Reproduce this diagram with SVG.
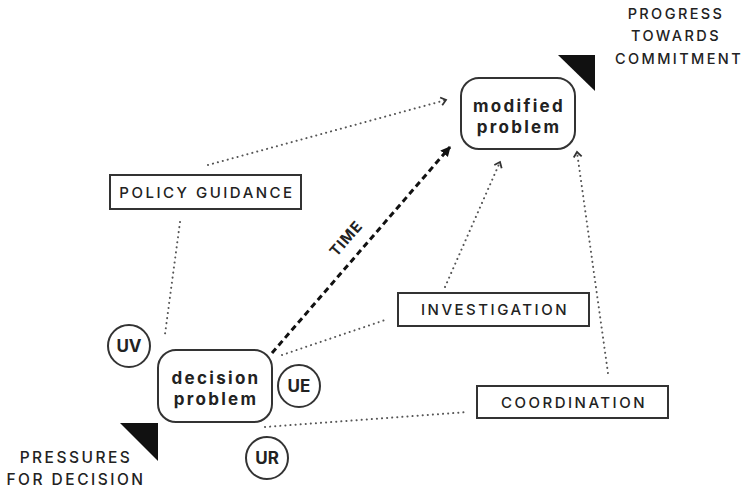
<svg xmlns="http://www.w3.org/2000/svg" width="747" height="492" viewBox="0 0 747 492">
<style>
text{font-family:Inter,"Liberation Sans",sans-serif;fill:#222}
.lbl{font-size:15px;font-weight:500;letter-spacing:2.5px;text-anchor:middle}
.cap{font-size:14.5px;font-weight:500;letter-spacing:2.4px;text-anchor:middle}
.capb{font-size:15.5px;font-weight:500;letter-spacing:2.5px;text-anchor:middle}
.big{font-size:17px;font-weight:700;letter-spacing:2.3px;text-anchor:middle}
.circ{font-size:17px;font-weight:700;text-anchor:middle}
.box{fill:#fff;stroke:#333;stroke-width:2}
.dot{fill:none;stroke:#555;stroke-width:2;stroke-linecap:round;stroke-dasharray:0.1 5}
.time{fill:none;stroke:#111;stroke-width:3;stroke-dasharray:6 4}
.tri{fill:#111}
</style>
<defs>
<marker id="open" markerWidth="10" markerHeight="10" refX="7" refY="5" orient="auto" markerUnits="userSpaceOnUse">
<path d="M2,1 L7,5 L2,9" fill="none" stroke="#333" stroke-width="1.8"/>
</marker>
<marker id="solid" markerWidth="12" markerHeight="12" refX="9" refY="6" orient="auto" markerUnits="userSpaceOnUse">
<path d="M0,1 L10,6 L0,11 Z" fill="#111"/>
</marker>
</defs>
<g id="connectors">
<path class="dot" d="M208,165 L446,100" marker-end="url(#open)"/>
<path class="dot" d="M180,222 L165,334"/>
<path class="dot" d="M282,355 L388,319"/>
<path class="dot" d="M445,287 L500,162" marker-end="url(#open)"/>
<path class="dot" d="M608,373 L577,152" marker-end="url(#open)"/>
<path class="dot" d="M265,427 L468,412"/>
<path class="time" d="M272,353 L450,147" marker-end="url(#solid)"/>
<text class="circ" transform="translate(350,242) rotate(-49)" style="font-size:15px;letter-spacing:1px">TIME</text>
</g>
<g id="modified-problem">
<rect class="box" x="461" y="78" width="114" height="71" rx="18"/>
<text class="big" x="519" y="112">modified</text>
<text class="big" x="519" y="133">problem</text>
</g>
<g id="decision-problem">
<rect class="box" x="158" y="350" width="114" height="72" rx="18"/>
<text class="big" x="216" y="384">decision</text>
<text class="big" x="216" y="405">problem</text>
</g>
<g id="policy-guidance">
<rect class="box" x="110" y="175" width="191" height="34"/>
<text class="lbl" x="207" y="198">POLICY GUIDANCE</text>
</g>
<g id="investigation">
<rect class="box" x="398" y="293" width="191" height="33"/>
<text class="lbl" x="495" y="315">INVESTIGATION</text>
</g>
<g id="coordination">
<rect class="box" x="477" y="386" width="191" height="32"/>
<text class="lbl" x="574" y="408">COORDINATION</text>
</g>
<g id="uv">
<circle class="box" cx="129" cy="346" r="21"/>
<text class="circ" x="129" y="352">UV</text>
</g>
<g id="ue">
<circle class="box" cx="299" cy="386" r="21"/>
<text class="circ" x="299" y="392">UE</text>
</g>
<g id="ur">
<circle class="box" cx="267" cy="458" r="21"/>
<text class="circ" x="267" y="464">UR</text>
</g>
<g id="progress">
<polygon class="tri" points="558,55 595,55 595,91"/>
<text class="cap" x="676" y="19">PROGRESS</text>
<text class="cap" x="676" y="41">TOWARDS</text>
<text class="cap" x="679" y="64">COMMITMENT</text>
</g>
<g id="pressures">
<polygon class="tri" points="120,423 158,423 158,461"/>
<text class="capb" x="76" y="463">PRESSURES</text>
<text class="capb" x="76" y="485">FOR DECISION</text>
</g>
</svg>
